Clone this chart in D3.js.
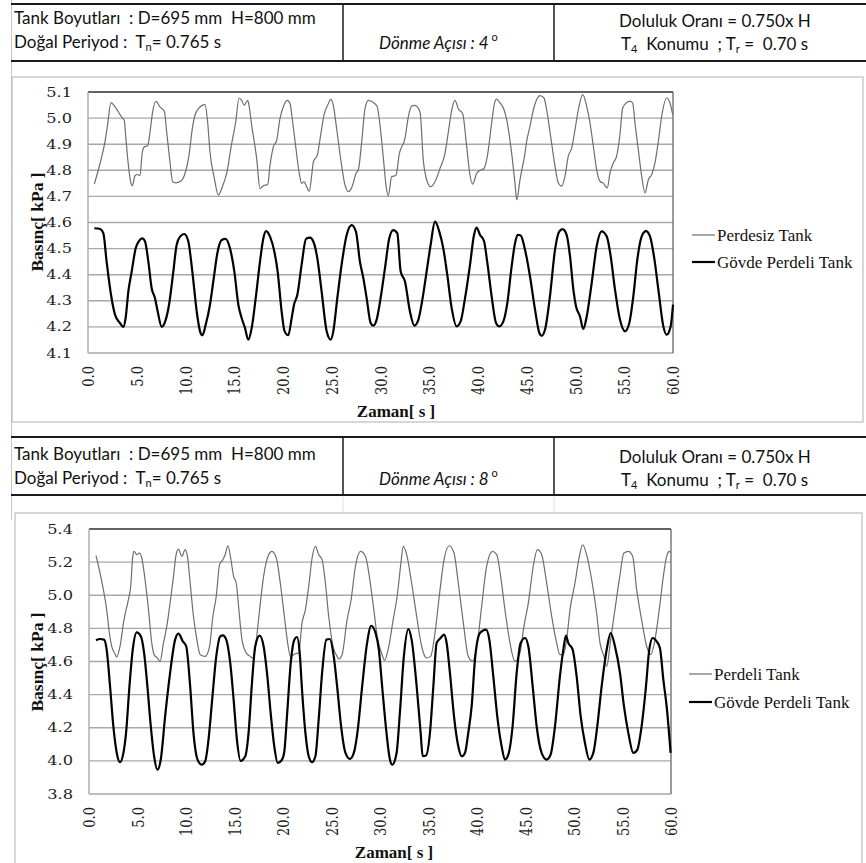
<!DOCTYPE html>
<html><head><meta charset="utf-8">
<script src="https://cdn.jsdelivr.net/npm/d3@7"></script>
<style>body{margin:0;background:#fff} svg{display:block} text{white-space:pre}</style>
</head><body>
<svg id="c" width="866" height="863"></svg>
<script>
// ---------- DATA ----------
const xTicks = [0, 5, 10, 15, 20, 25, 30, 35, 40, 45, 50, 55, 60];
const yTicks1 = [4.1, 4.2, 4.3, 4.4, 4.5, 4.6, 4.7, 4.8, 4.9, 5.0, 5.1];
const yTicks2 = [3.8, 4.0, 4.2, 4.4, 4.6, 4.8, 5.0, 5.2, 5.4];
const legend1 = ["Perdesiz Tank", "Gövde Perdeli Tank"];
const legend2 = ["Perdeli Tank", "Gövde Perdeli Tank"];
const angles = ["4", "8"];

// Chart 1 – Perdesiz Tank (thin grey)
const t1a = [0.65,1.23,1.74,2.0,2.36,2.77,3.45,3.73,3.86,4.14,4.41,4.55,4.82,5.09,5.33,5.57,5.78,6.12,6.36,6.63,6.97,7.38,7.83,8.07,8.41,8.68,8.99,9.54,9.88,10.36,10.7,10.97,11.32,12.0,12.27,12.51,12.96,13.37,13.78,14.22,14.74,15.15,15.49,15.76,16.03,16.38,16.51,16.79,17.3,17.64,17.98,18.43,18.67,19.01,19.35,19.69,20.1,20.44,20.72,20.99,21.33,21.67,21.91,22.15,22.36,22.7,22.94,23.11,23.52,23.86,24.2,24.65,24.89,25.16,25.5,25.91,26.36,26.7,27.14,27.48,27.72,28.07,28.41,28.75,29.43,29.67,29.95,30.36,30.56,30.8,31.14,31.59,31.93,32.51,32.85,33.19,33.54,34.05,34.39,34.8,35.14,35.59,36.1,36.61,36.96,37.3,37.64,37.98,38.43,38.84,39.18,39.45,39.86,40.2,40.61,40.96,41.4,41.74,41.91,42.26,42.67,42.94,43.45,43.79,43.97,44.31,44.82,44.99,45.33,45.68,46.02,46.36,46.77,47.04,47.45,47.9,48.24,48.58,48.92,49.26,49.61,49.95,50.29,50.74,51.15,51.49,51.83,52.17,52.51,52.85,53.26,53.54,53.88,54.22,54.56,54.84,55.25,55.59,55.86,56.1,56.44,56.79,57.13,57.47,57.81,58.15,58.5,58.84,59.35,59.69,59.97];
const v1a = [4.747,4.826,4.909,4.972,5.059,5.043,5.004,4.99,4.934,4.82,4.75,4.741,4.779,4.784,4.779,4.87,4.89,4.894,4.947,5.024,5.064,5.043,5.026,4.947,4.832,4.756,4.752,4.759,4.78,4.858,4.96,5.011,5.036,5.052,4.985,4.871,4.769,4.705,4.737,4.788,4.903,4.985,5.077,5.068,5.049,5.068,5.049,4.972,4.845,4.73,4.741,4.746,4.82,4.89,4.915,4.998,5.05,5.068,5.055,4.985,4.883,4.788,4.75,4.756,4.743,4.72,4.78,4.832,4.858,4.934,5.011,5.055,5.072,5.049,4.96,4.845,4.743,4.718,4.743,4.788,4.8,4.909,5.036,5.068,5.055,5.043,4.972,4.82,4.743,4.703,4.775,4.781,4.864,4.922,5.004,5.046,5.049,5.024,4.839,4.756,4.737,4.756,4.807,4.864,4.947,5.03,5.068,5.036,5.017,4.89,4.781,4.747,4.788,4.8,4.807,4.854,4.981,5.064,5.073,5.058,5.032,4.994,4.866,4.751,4.687,4.764,4.866,4.911,4.968,5.032,5.071,5.086,5.077,5.032,4.93,4.815,4.751,4.739,4.777,4.854,4.885,4.956,5.032,5.09,5.045,4.981,4.892,4.802,4.758,4.751,4.732,4.79,4.828,4.854,4.937,5.039,5.06,5.064,5.058,4.981,4.879,4.777,4.713,4.764,4.783,4.828,4.911,5.007,5.077,5.058,5.013];

// Chart 1 – Gövde Perdeli Tank (thick black)
const t1b = [0.65,1.23,1.57,1.91,2.36,2.77,3.28,3.62,3.86,4.14,4.48,4.89,5.23,5.57,5.85,6.19,6.53,6.87,7.15,7.56,7.9,8.31,8.75,9.09,9.44,9.88,10.29,10.7,11.15,11.49,11.73,12.07,12.51,12.85,13.3,13.71,14.12,14.56,15.01,15.42,15.76,16.1,16.44,16.79,17.2,17.64,17.98,18.26,18.67,19.11,19.45,19.86,20.15,20.54,20.89,21.13,21.47,21.91,22.36,22.77,23.11,23.52,23.96,24.48,24.89,25.16,25.57,26.01,26.53,27.04,27.48,27.89,28.24,28.58,28.99,29.26,29.6,30.01,30.46,30.9,31.31,31.72,32.07,32.51,33.02,33.47,33.88,34.32,34.73,35.14,35.59,36.03,36.44,36.85,37.3,37.81,38.22,38.67,39.18,39.59,39.86,40.2,40.62,40.96,41.4,41.85,42.19,42.6,43.01,43.45,43.8,44.07,44.38,44.82,45.33,45.85,46.29,46.53,46.87,47.38,47.9,48.34,48.68,49.09,49.44,49.78,50.05,50.46,50.8,51.15,51.66,52.17,52.68,53.2,53.61,54.05,54.56,55.08,55.52,55.93,56.34,56.79,57.23,57.64,58.05,58.5,59.01,59.35,59.76,60.0];
const v1b = [4.578,4.575,4.559,4.45,4.323,4.247,4.215,4.2,4.234,4.336,4.412,4.501,4.529,4.539,4.527,4.45,4.348,4.31,4.259,4.2,4.219,4.285,4.412,4.514,4.546,4.556,4.527,4.412,4.259,4.183,4.168,4.208,4.285,4.374,4.489,4.533,4.537,4.501,4.412,4.285,4.234,4.196,4.151,4.196,4.31,4.45,4.539,4.567,4.546,4.489,4.412,4.259,4.185,4.168,4.234,4.285,4.323,4.438,4.537,4.542,4.527,4.463,4.336,4.183,4.151,4.183,4.31,4.438,4.552,4.59,4.565,4.45,4.387,4.31,4.215,4.205,4.227,4.31,4.425,4.54,4.571,4.559,4.412,4.374,4.259,4.205,4.227,4.31,4.412,4.514,4.603,4.565,4.501,4.399,4.272,4.202,4.221,4.31,4.438,4.552,4.58,4.553,4.528,4.445,4.317,4.215,4.202,4.221,4.292,4.432,4.521,4.553,4.55,4.496,4.394,4.266,4.177,4.166,4.189,4.317,4.496,4.566,4.575,4.553,4.47,4.343,4.279,4.24,4.192,4.24,4.368,4.509,4.566,4.547,4.47,4.343,4.228,4.183,4.215,4.317,4.458,4.547,4.567,4.547,4.47,4.343,4.202,4.17,4.202,4.285];

// Chart 2 – Perdeli Tank (thin grey)
const t2a = [0.72,1.14,1.48,1.82,2.1,2.34,2.69,2.86,3.2,3.61,4.06,4.3,4.51,4.65,4.92,5.2,5.44,5.78,6.13,6.47,6.71,7.06,7.33,7.68,8.02,8.36,8.71,8.98,9.22,9.57,9.91,10.15,10.43,10.77,11.12,11.46,11.98,12.43,12.77,13.12,13.46,13.8,14.04,14.32,14.63,14.91,15.18,15.42,15.77,16.21,16.63,16.9,17.25,17.59,18.0,18.52,18.86,19.31,19.72,20.14,20.48,20.76,21.27,21.62,21.96,22.31,22.65,23.0,23.34,23.68,24.03,24.37,24.71,25.16,25.58,25.75,26.09,26.61,27.02,27.47,27.99,28.5,28.95,29.36,29.71,30.22,30.46,30.91,31.36,31.77,32.12,32.4,32.75,33.26,33.78,34.29,34.81,35.22,35.67,36.11,36.6,37.15,37.63,38.07,38.59,39.1,39.55,40.03,40.48,40.99,41.61,42.03,42.44,42.88,43.4,43.91,44.43,44.84,45.29,45.8,46.22,46.67,47.18,47.7,48.21,48.55,48.9,49.24,49.59,50.1,50.55,50.89,51.3,51.82,52.33,52.68,53.09,53.37,53.78,54.22,54.67,55.15,55.6,56.05,56.46,56.97,57.49,57.9,58.35,58.79,59.21,59.55,59.83,59.97];
const v2a = [5.239,5.134,5.034,4.913,4.772,4.692,4.645,4.627,4.692,4.853,4.973,5.054,5.235,5.265,5.245,5.255,5.225,5.094,4.913,4.712,4.641,4.621,4.601,4.712,4.812,4.953,5.114,5.245,5.279,5.235,5.275,5.235,5.074,4.873,4.732,4.641,4.631,4.692,4.873,4.994,5.185,5.215,5.245,5.299,5.215,5.114,5.074,4.933,4.732,4.652,4.631,4.621,4.732,4.913,5.114,5.245,5.265,5.225,5.074,4.873,4.712,4.631,4.647,4.651,4.833,4.913,5.054,5.225,5.295,5.245,5.215,5.074,4.873,4.692,4.631,4.615,4.641,4.853,4.973,5.175,5.265,5.235,5.094,4.913,4.752,4.641,4.607,4.692,4.853,4.994,5.175,5.295,5.245,5.074,4.873,4.692,4.621,4.631,4.772,4.994,5.215,5.299,5.255,5.074,4.833,4.631,4.601,4.712,4.933,5.175,5.265,5.245,5.114,4.913,4.712,4.601,4.652,4.812,4.953,5.175,5.275,5.245,5.074,4.873,4.712,4.641,4.641,4.732,4.913,5.074,5.235,5.305,5.245,5.094,4.893,4.712,4.631,4.571,4.732,4.913,5.094,5.255,5.265,5.235,5.034,4.853,4.692,4.641,4.732,4.913,5.114,5.235,5.265,5.255];

// Chart 2 – Gövde Perdeli Tank (thick black)
const t2b = [0.72,1.14,1.55,1.82,2.17,2.51,2.86,3.2,3.55,3.82,4.17,4.51,4.92,5.34,5.68,6.02,6.37,6.71,7.06,7.4,7.85,8.36,8.88,9.22,9.67,10.02,10.43,10.77,11.19,11.63,11.98,12.32,12.67,13.12,13.53,13.8,14.15,14.56,14.91,15.25,15.62,16.11,16.45,16.8,17.14,17.59,18.0,18.35,18.76,19.1,19.45,19.9,20.14,20.41,20.83,21.17,21.45,21.72,21.96,22.31,22.65,23.0,23.34,23.68,24.03,24.47,24.82,25.23,25.58,25.99,26.44,26.89,27.3,27.71,28.16,28.67,29.09,29.54,29.88,30.22,30.67,31.02,31.26,31.71,32.05,32.46,32.92,33.26,33.78,34.19,34.4,34.74,35.15,35.5,35.84,36.25,36.6,36.87,37.21,37.63,38.07,38.42,38.76,39.1,39.45,39.79,40.31,40.93,41.27,41.68,42.09,42.54,42.88,43.23,43.67,44.09,44.5,44.95,45.29,45.74,46.15,46.66,47.18,47.59,48.04,48.55,48.9,49.17,49.41,49.86,50.27,50.69,51.13,51.58,51.99,52.4,52.85,53.37,53.78,54.22,54.74,55.15,55.6,56.12,56.53,56.97,57.42,57.76,58.11,58.52,58.86,59.21,59.55,59.96];
const v2b = [4.728,4.736,4.732,4.672,4.45,4.209,4.048,3.992,4.048,4.169,4.45,4.672,4.776,4.752,4.652,4.45,4.209,4.028,3.947,4.008,4.27,4.531,4.732,4.768,4.722,4.692,4.45,4.169,4.008,3.977,3.998,4.128,4.35,4.631,4.752,4.758,4.732,4.591,4.37,4.128,4.0,4.028,4.169,4.471,4.692,4.756,4.692,4.531,4.27,4.088,3.988,4.008,4.058,4.27,4.611,4.732,4.748,4.652,4.43,4.169,4.028,3.992,4.028,4.25,4.531,4.732,4.736,4.631,4.45,4.209,4.048,4.012,4.048,4.189,4.45,4.712,4.816,4.772,4.672,4.45,4.169,4.008,3.977,4.048,4.29,4.631,4.796,4.732,4.45,4.169,4.028,4.032,4.169,4.45,4.712,4.742,4.762,4.712,4.531,4.269,4.088,4.028,4.048,4.169,4.33,4.611,4.772,4.792,4.732,4.511,4.269,4.088,4.008,4.038,4.209,4.531,4.712,4.742,4.692,4.45,4.209,4.048,4.008,4.038,4.209,4.511,4.672,4.756,4.712,4.672,4.511,4.269,4.108,4.008,4.048,4.209,4.45,4.672,4.772,4.692,4.531,4.33,4.169,4.048,4.068,4.209,4.45,4.672,4.742,4.722,4.682,4.491,4.33,4.048];

// ---------- DRAW ----------
const svg = d3.select("#c");
const HEAD_FONT = "Lato, 'Open Sans', sans-serif";
const SERIF = "'Liberation Serif', 'DejaVu Serif', serif";
const TICK_FONT = "'DejaVu Serif', serif";

// left page border
svg.append("line").attr("x1", 11.5).attr("x2", 11.5).attr("y1", 0).attr("y2", 520)
  .attr("stroke", "#c8c8c8").attr("stroke-width", 1);

function header(top, bot, toff, angle) {
  const g = svg.append("g");
  g.append("line").attr("x1", 11).attr("x2", 866).attr("y1", top).attr("y2", top).attr("stroke", "#1a1a1a").attr("stroke-width", 2);
  g.append("line").attr("x1", 11).attr("x2", 866).attr("y1", bot).attr("y2", bot).attr("stroke", "#1a1a1a").attr("stroke-width", 2);
  [343, 554].forEach(x => g.append("line").attr("x1", x).attr("x2", x).attr("y1", top).attr("y2", bot).attr("stroke", "#1a1a1a").attr("stroke-width", 1.5));
  const T = (x, y) => g.append("text").attr("x", x).attr("y", y + toff).attr("font-family", HEAD_FONT).attr("font-size", 17).attr("fill", "#111");
  T(14, 24).text("Tank Boyutları  : D=695 mm  H=800 mm");
  const t2 = T(14, 48); t2.append("tspan").text("Doğal Periyod :  T"); t2.append("tspan").attr("font-size", 11).attr("dy", 3).text("n"); t2.append("tspan").attr("dy", -3).text("= 0.765 s");
  const t3 = T(379, 49).attr("font-style", "italic"); t3.append("tspan").text("Dönme Açısı : " + angle); t3.append("tspan").attr("font-size", 11).attr("dy", -8).attr("font-style", "normal").text(" o");
  T(619, 27).text("Doluluk Oranı = 0.750x H");
  const t5 = T(621, 50); t5.append("tspan").text("T"); t5.append("tspan").attr("font-size", 11).attr("dy", 3).text("4"); t5.append("tspan").attr("dy", -3).text("  Konumu  ; T"); t5.append("tspan").attr("font-size", 11).attr("dy", 3).text("r"); t5.append("tspan").attr("dy", -3).text(" =  0.70 s");
}
header(4, 61, 0, angles[0]);
header(437, 495, 436, angles[1]);
// faint cell continuations under 2nd header
[343, 554].forEach(x => svg.append("line").attr("x1", x).attr("x2", x).attr("y1", 497).attr("y2", 513).attr("stroke", "#e0e0e0"));

function panel(c) {
  const g = svg.append("g");
  g.append("rect").attr("x", c.fx).attr("y", c.fy).attr("width", c.fw).attr("height", c.fh).attr("fill", "#fff").attr("stroke", "#bdbdbd").attr("stroke-width", 1.2);
  const x = d3.scaleLinear().domain([0, 60]).range([c.x0, c.x1]);
  const y = d3.scaleLinear().domain(c.yDom).range([c.yb, c.yt]);
  // gridlines
  g.selectAll(".gr").data(c.yTicks).join("line")
    .attr("x1", c.x0).attr("x2", c.x1).attr("y1", d => y(d)).attr("y2", d => y(d))
    .attr("stroke", "#a8a8a8").attr("stroke-width", 1.4);
  // plot border
  g.append("line").attr("x1", c.x0).attr("x2", c.x1).attr("y1", c.yt).attr("y2", c.yt).attr("stroke", "#444").attr("stroke-width", 1.3);
  g.append("line").attr("x1", c.x1).attr("x2", c.x1).attr("y1", c.yt).attr("y2", c.yb).attr("stroke", "#666").attr("stroke-width", 1.3);
  g.append("line").attr("x1", c.x0).attr("x2", c.x0).attr("y1", c.yt).attr("y2", c.yb).attr("stroke", "#a8a8a8").attr("stroke-width", 1.4);
  // y tick labels
  g.selectAll(".yl").data(c.yTicks).join("text")
    .attr("transform", d => `translate(${c.x0 - 16},${y(d)}) scale(1.2,1)`)
    .attr("text-anchor", "end").attr("dominant-baseline", "central")
    .attr("font-family", TICK_FONT).attr("font-size", 13.5).attr("fill", "#222")
    .text(d3.format(".1f"));
  // x tick labels
  g.selectAll(".xl").data(xTicks).join("text")
    .attr("transform", d => `translate(${x(d)},${c.yb + 13}) scale(1.25,1) rotate(-90)`)
    .attr("text-anchor", "end").attr("dominant-baseline", "central")
    .attr("font-family", TICK_FONT).attr("font-size", 13).attr("fill", "#222")
    .text(d3.format(".1f"));
  // titles
  g.append("text").attr("x", c.xtx).attr("y", c.xty).attr("text-anchor", "middle")
    .attr("font-family", SERIF).attr("font-weight", "bold").attr("font-size", 17).attr("fill", "#111").text("Zaman[ s ]");
  g.append("text").attr("transform", `translate(${43},${c.ytc}) rotate(-90)`).attr("text-anchor", "middle")
    .attr("font-family", SERIF).attr("font-weight", "bold").attr("font-size", 17.5).attr("fill", "#111").text("Basınç[ kPa ]");
  // lines
  const line = d3.line().x(d => x(d[0])).y(d => y(d[1])).curve(d3.curveMonotoneX);
  c.series.forEach(s => {
    g.append("path").datum(d3.zip(s.t, s.v)).attr("d", line)
      .attr("fill", "none").attr("stroke", s.color).attr("stroke-width", s.w).attr("stroke-linejoin", "round");
  });
  // legend
  c.series.forEach((s, i) => {
    const ly = c.ly[i];
    g.append("line").attr("x1", c.lx).attr("x2", c.lx + 23).attr("y1", ly).attr("y2", ly).attr("stroke", s.color).attr("stroke-width", s.w);
    g.append("text").attr("x", c.lx + 25).attr("y", ly).attr("dominant-baseline", "central")
      .attr("font-family", SERIF).attr("font-size", 17).attr("fill", "#111").text(c.legend[i]);
  });
}

panel({fx: 12, fy: 77, fw: 851, fh: 345, x0: 88, x1: 673, yt: 92, yb: 353, yDom: [4.1, 5.1], yTicks: yTicks1,
  xtx: 396, xty: 417, ytc: 222, lx: 692, ly: [235, 262], legend: legend1,
  series: [{t: t1a, v: v1a, color: "#6e6e6e", w: 1.2}, {t: t1b, v: v1b, color: "#000", w: 2.2}]});
panel({fx: 15, fy: 513, fw: 847, fh: 360, x0: 89, x1: 671, yt: 529, yb: 794, yDom: [3.8, 5.4], yTicks: yTicks2,
  xtx: 394, xty: 858, ytc: 662, lx: 689, ly: [674, 702], legend: legend2,
  series: [{t: t2a, v: v2a, color: "#6e6e6e", w: 1.2}, {t: t2b, v: v2b, color: "#000", w: 2.2}]});
</script>
</body></html>
